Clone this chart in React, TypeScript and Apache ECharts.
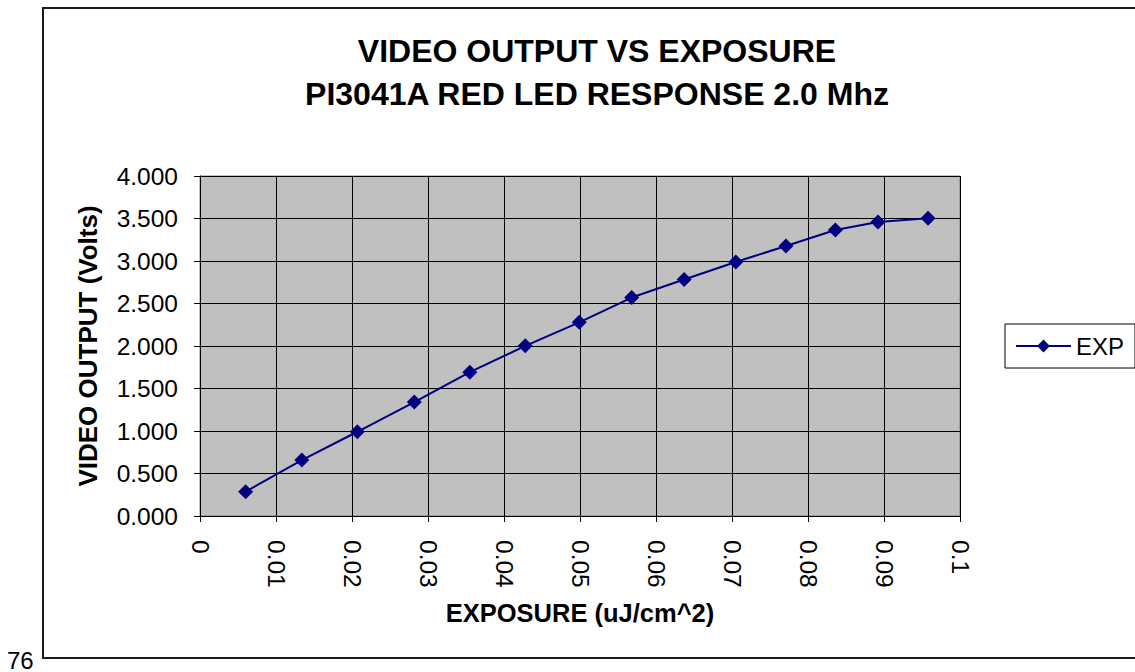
import React, { useEffect, useRef } from "react";
import * as echarts from "echarts";

const exposure = [0.006, 0.0134, 0.0207, 0.0282, 0.0355, 0.0428, 0.0499, 0.0568, 0.0637, 0.0705, 0.0771, 0.0836, 0.0892, 0.0958];
const videoOutput = [0.286, 0.658, 0.991, 1.34, 1.692, 2.002, 2.278, 2.57, 2.782, 2.989, 3.177, 3.365, 3.459, 3.502];
const seriesName = "EXP";
const titleLines = ["VIDEO OUTPUT VS EXPOSURE", "PI3041A RED LED RESPONSE 2.0 Mhz"];
const xAxisName = "EXPOSURE (uJ/cm^2)";
const yAxisName = "VIDEO OUTPUT (Volts)";
const pageNumber = "76";

const FONT = "'Liberation Sans', Arial, sans-serif";

export default function App() {
  const ref = useRef<HTMLDivElement>(null);
  useEffect(() => {
    if (!ref.current) return;
    const chart = echarts.init(ref.current, null, { renderer: "svg" });
    const data = exposure.map((x, i) => [x, videoOutput[i]]);
    chart.setOption({
      animation: false,
      backgroundColor: "#ffffff",
      textStyle: { fontFamily: FONT },
      title: {
        text: titleLines.join("\n"),
        left: 592,
        top: 24,
        textAlign: "center",
        textStyle: { fontFamily: FONT, fontSize: 32, fontWeight: "bold", color: "#000", lineHeight: 43 },
      },
      legend: {
        left: 1005,
        top: 324,
        orient: "vertical",
        padding: [10, 11, 10, 10],
        borderColor: "#000",
        borderWidth: 1,
        itemWidth: 55,
        itemHeight: 16,
        itemGap: 0,
        textStyle: { fontFamily: FONT, fontSize: 24, color: "#000" },
        data: [seriesName],
      },
      grid: {
        left: 200,
        right: 175,
        top: 176,
        bottom: 156,
        show: true,
        backgroundColor: "#C0C0C0",
        borderColor: "#808080",
        borderWidth: 1,
      },
      xAxis: {
        type: "value",
        min: 0,
        max: 0.1,
        interval: 0.01,
        name: xAxisName,
        nameLocation: "middle",
        nameGap: 84,
        nameTextStyle: { fontFamily: FONT, fontSize: 25.5, fontWeight: "bold", color: "#000", verticalAlign: "top" },
        axisLine: { show: true, lineStyle: { color: "#000", width: 1 } },
        axisTick: { show: true, length: 6, lineStyle: { color: "#000" } },
        axisLabel: {
          rotate: -90,
          margin: 24,
          fontSize: 24.5,
          color: "#000",
          fontFamily: FONT,
          formatter: (v: number) => String(+v.toFixed(2)),
        },
        splitLine: { show: true, lineStyle: { color: "#000", width: 1 } },
      },
      yAxis: {
        type: "value",
        min: 0,
        max: 4,
        interval: 0.5,
        name: yAxisName,
        nameLocation: "middle",
        nameGap: 99,
        nameTextStyle: { fontFamily: FONT, fontSize: 26, fontWeight: "bold", color: "#000" },
        axisLine: { show: true, lineStyle: { color: "#000", width: 1 } },
        axisTick: { show: true, length: 6, lineStyle: { color: "#000" } },
        axisLabel: {
          margin: 22,
          fontSize: 24.5,
          color: "#000",
          fontFamily: FONT,
          formatter: (v: number) => v.toFixed(3),
        },
        splitLine: { show: true, lineStyle: { color: "#000", width: 1 } },
      },
      graphic: [
        {
          type: "rect",
          shape: { x: 43, y: 8, width: 1200, height: 650 },
          style: { fill: "none", stroke: "#1a1a1a", lineWidth: 2 },
          silent: true,
          z: -1,
        },
        {
          type: "text",
          x: 7,
          y: 660,
          style: { text: pageNumber, fontSize: 24, fontFamily: FONT, fill: "#000", textVerticalAlign: "middle" },
        },
      ],
      series: [
        {
          name: seriesName,
          type: "line",
          data,
          symbol: "diamond",
          symbolSize: 15,
          itemStyle: { color: "#000080" },
          lineStyle: { color: "#000080", width: 2 },
        },
      ],
    });
    return () => chart.dispose();
  }, []);
  return <div ref={ref} style={{ position: "absolute", left: 0, top: 0, width: 1135, height: 672 }} />;
}
